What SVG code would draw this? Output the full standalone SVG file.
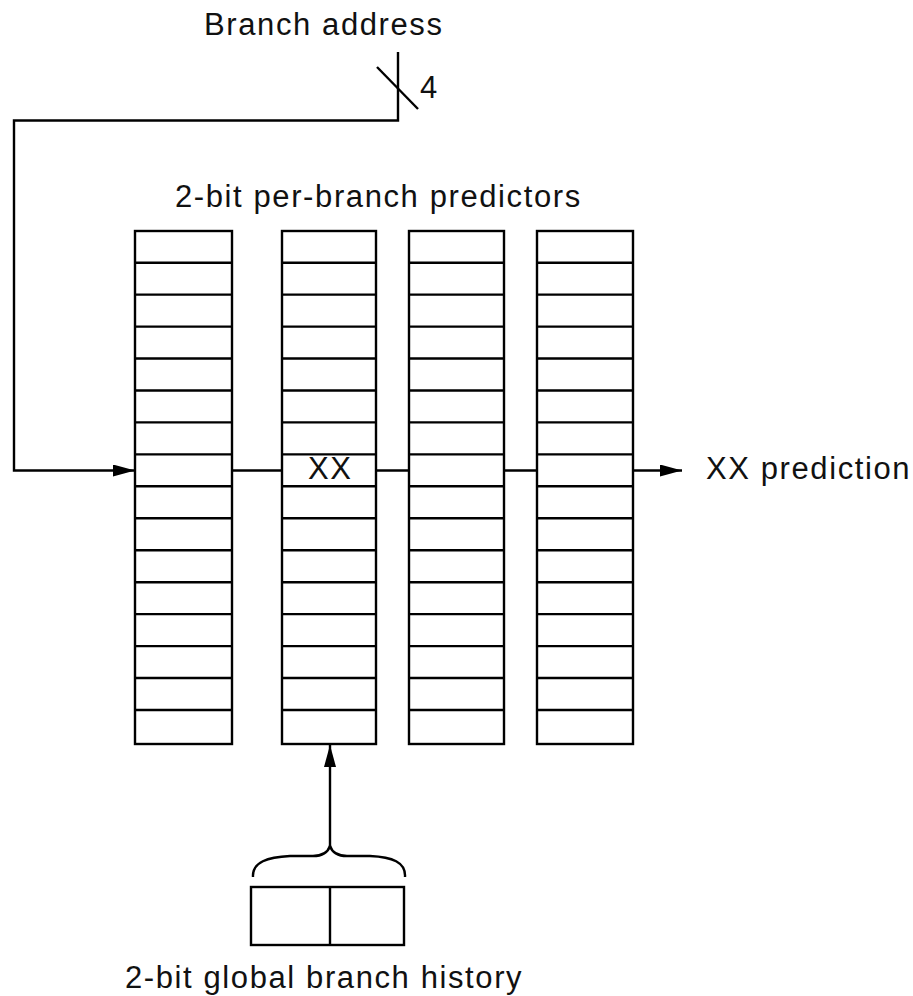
<svg xmlns="http://www.w3.org/2000/svg" width="913" height="996" viewBox="0 0 913 996">
<style>
.ln{fill:none;stroke:#000;stroke-width:2.4;stroke-linecap:butt}
.cell{fill:#fff;stroke:#000;stroke-width:2.4}
.t{font-family:"Liberation Sans",Arial,Helvetica,sans-serif;font-size:31px;letter-spacing:1.6px;fill:#111}
</style>
<defs>
<marker id="ah" viewBox="0 0 22 12" refX="22" refY="6" markerWidth="22" markerHeight="12" markerUnits="userSpaceOnUse" orient="auto">
<path d="M0,0 L22,6 L0,12 Z" fill="#000"/>
</marker>
</defs>
<rect width="913" height="996" fill="#fff"/>

<g id="labels">
<text class="t" x="204" y="35">Branch address</text>
<text class="t" x="420" y="98">4</text>
<text class="t" x="175" y="207">2-bit per-branch predictors</text>
<text class="t" x="706" y="479">XX prediction</text>
<text class="t" x="125" y="988">2-bit global branch history</text>
</g>

<g id="connectors">
<path class="ln" d="M398,52 L398,120.5 L14,120.5 L14,470.5 L135,470.5" marker-end="url(#ah)"/>
<line class="ln" x1="377" y1="67" x2="418" y2="109"/>
<line class="ln" x1="232" y1="470.5" x2="282" y2="470.5"/>
<line class="ln" x1="376" y1="470.5" x2="409" y2="470.5"/>
<line class="ln" x1="504" y1="470.5" x2="537" y2="470.5"/>
<line class="ln" x1="633" y1="470.5" x2="682" y2="470.5" marker-end="url(#ah)"/>
<line class="ln" x1="330" y1="847" x2="330" y2="745" marker-end="url(#ah)"/>
<path class="ln" d="M253,877 C252,862 268,857 290,856 L313,856 C322,856 328,852 330,846 C332,852 338,856 347,856 L370,856 C392,857 406,862 405,877"/>
</g>

<g id="col1">
<rect class="cell" x="135" y="231" width="97" height="513"/>
<path class="ln" d="M135,262.7H232M135,294.6H232M135,326.6H232M135,358.5H232M135,390.5H232M135,422.4H232M135,454.4H232M135,486.3H232M135,518.3H232M135,550.2H232M135,582.2H232M135,614.1H232M135,646.1H232M135,678H232M135,710H232"/>
</g>
<g id="col2">
<rect class="cell" x="282" y="231" width="94" height="513"/>
<path class="ln" d="M282,262.7H376M282,294.6H376M282,326.6H376M282,358.5H376M282,390.5H376M282,422.4H376M282,454.4H376M282,486.3H376M282,518.3H376M282,550.2H376M282,582.2H376M282,614.1H376M282,646.1H376M282,678H376M282,710H376"/>
<text class="t" x="308" y="479">XX</text>
</g>
<g id="col3">
<rect class="cell" x="409" y="231" width="95" height="513"/>
<path class="ln" d="M409,262.7H504M409,294.6H504M409,326.6H504M409,358.5H504M409,390.5H504M409,422.4H504M409,454.4H504M409,486.3H504M409,518.3H504M409,550.2H504M409,582.2H504M409,614.1H504M409,646.1H504M409,678H504M409,710H504"/>
</g>
<g id="col4">
<rect class="cell" x="537" y="231" width="96" height="513"/>
<path class="ln" d="M537,262.7H633M537,294.6H633M537,326.6H633M537,358.5H633M537,390.5H633M537,422.4H633M537,454.4H633M537,486.3H633M537,518.3H633M537,550.2H633M537,582.2H633M537,614.1H633M537,646.1H633M537,678H633M537,710H633"/>
</g>

<g id="history">
<rect class="cell" x="251" y="887" width="153" height="58"/>
<line class="ln" x1="330" y1="887" x2="330" y2="945"/>
</g>
</svg>
